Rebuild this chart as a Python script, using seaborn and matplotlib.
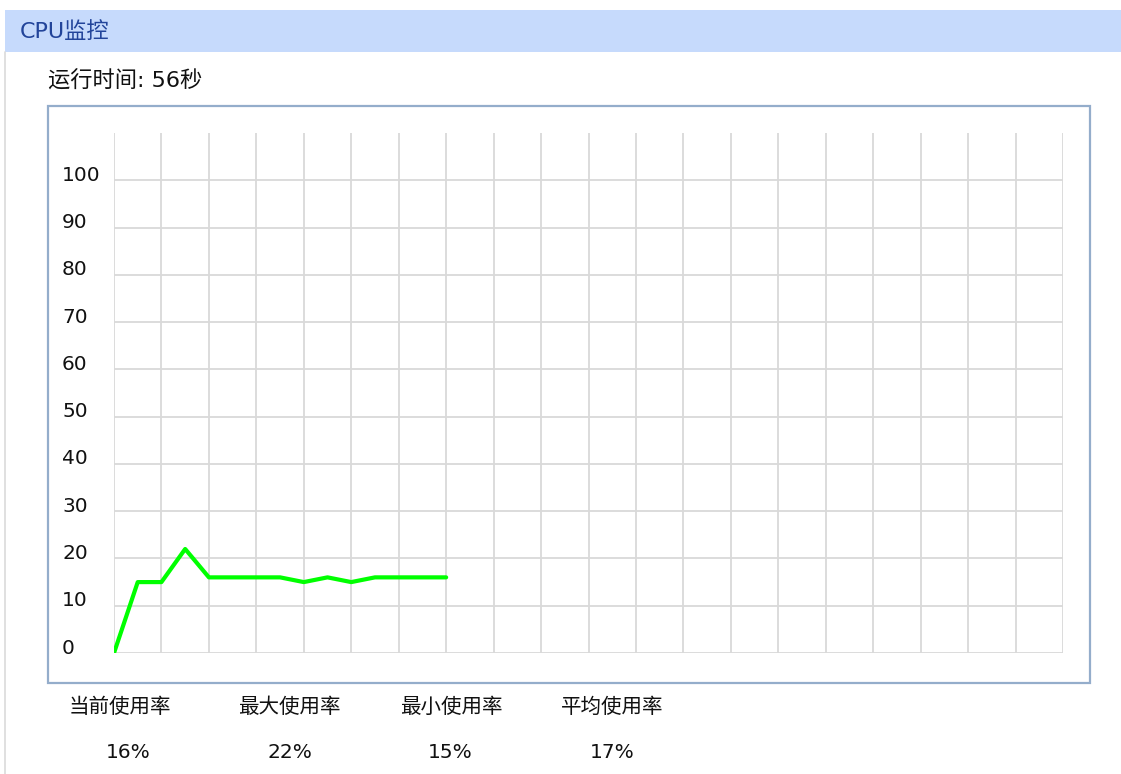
import matplotlib
matplotlib.use("Agg")
import matplotlib.pyplot as plt
import matplotlib.transforms as mtransforms
from matplotlib.patches import Rectangle
from matplotlib.lines import Line2D
import seaborn as sns
import pandas as pd

# ---- data ----
sample_index = [0, 1, 2, 3, 4, 5, 6, 7, 8, 9, 10, 11, 12, 13, 14]
cpu_usage = [0, 15, 15, 22, 16, 16, 16, 16, 15, 16, 15, 16, 16, 16, 16]
y_ticks = [0, 10, 20, 30, 40, 50, 60, 70, 80, 90, 100]
x_grid = list(range(0, 41, 2))
title_text = "CPU监控"
runtime_text = "运行时间: 56秒"
stat_labels = ["当前使用率", "最大使用率", "最小使用率", "平均使用率"]
stat_values = ["16%", "22%", "15%", "17%"]

sns.set_style("white")
plt.rcParams["font.family"] = ["Noto Sans CJK SC", "DejaVu Sans"]
LATIN_FIRST = ["DejaVu Sans", "Noto Sans CJK SC"]

W, H = 1121, 774
fig = plt.figure(figsize=(W / 100, H / 100), dpi=100)
fig.patch.set_facecolor("white")

def fx(px):
    return px / W

def fy(py):
    return 1 - py / H

# header bar
fig.patches.append(Rectangle((fx(5), fy(52)), fx(W) - fx(5), fy(10) - fy(52),
                             transform=fig.transFigure, facecolor="#C6DAFC",
                             edgecolor="none", zorder=0))
fig.lines.append(Line2D([fx(5), fx(5)], [fy(52), 0], transform=fig.transFigure,
                        color="#DADADA", lw=1.2))
fig.text(fx(20), fy(32), title_text, color="#22449A", fontsize=16,
         ha="left", va="center", family=LATIN_FIRST)

fig.text(fx(48), fy(81), runtime_text, color="#111111", fontsize=16,
         ha="left", va="center", family=LATIN_FIRST)

# chart box
fig.patches.append(Rectangle((fx(48), fy(683)), fx(1090) - fx(48), fy(106) - fy(683),
                             transform=fig.transFigure, facecolor="none",
                             edgecolor="#94ADCB", lw=1.6, zorder=1))

# axes (grid area)
ax = fig.add_axes([fx(114), fy(653), fx(1063) - fx(114), fy(133) - fy(653)])
ax.set_facecolor("none")
for s in ax.spines.values():
    s.set_visible(False)
ax.set_xlim(0, 40)
ax.set_ylim(0, 110)

for xv in x_grid:
    ax.axvline(xv, color="#D9D9D9", lw=1.3, zorder=1)
for yv in y_ticks:
    ax.axhline(yv, color="#D9D9D9", lw=1.3, zorder=1)

df = pd.DataFrame({"t": sample_index, "cpu": cpu_usage})
sns.lineplot(data=df, x="t", y="cpu", ax=ax, color="#00FF00", lw=3,
             zorder=3, legend=False)

ax.set_xlabel("")
ax.set_ylabel("")
ax.set_xticks([])
ax.set_yticks(y_ticks)
ax.set_yticklabels([str(v) for v in y_ticks], fontsize=14.5, color="#111111",
                   family=["DejaVu Sans"])
ax.tick_params(axis="y", length=0, pad=37.4)
offset = mtransforms.ScaledTranslation(0, 0.05, fig.dpi_scale_trans)
for lab in ax.get_yticklabels():
    lab.set_horizontalalignment("left")
    lab.set_verticalalignment("center")
    lab.set_transform(lab.get_transform() + offset)

# statistics
label_x = [120, 289, 451, 612]
value_x = [128, 290, 450, 612]
for lx, vx, lab, val in zip(label_x, value_x, stat_labels, stat_values):
    fig.text(fx(lx), fy(707), lab, fontsize=14.8, color="#111111",
             ha="center", va="center")
    fig.text(fx(vx), fy(752), val, fontsize=14.5, color="#111111",
             ha="center", va="center", family=["DejaVu Sans"])

fig.savefig("out.png", dpi=100)
